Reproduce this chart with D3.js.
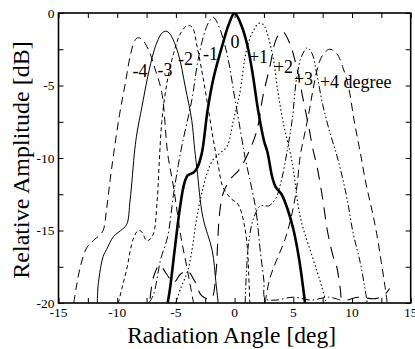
<!DOCTYPE html>
<html>
<head>
  <meta charset="utf-8">
  <script src="https://d3js.org/d3.v7.min.js"></script>
  <style>
    body { margin: 0; background: #fff; }
  </style>
</head>
<body>
<div id="chart"></div>
<script>
    // beam patterns, [angle deg, relative amplitude dB]
    var beamM4 = [[-13.7,-20],[-13.5,-19],[-13.2,-17.7],[-12.6,-16.2],[-11.9,-15.6],[-11.6,-15.4],[-11.2,-15.0],[-10.9,-13.5],[-10.6,-11.5],[-10.3,-9.7],[-9.8,-7],[-9.3,-4.8],[-8.9,-3],[-8.5,-1.9],[-8.2,-1.7],[-7.8,-1.9],[-7.3,-2.6],[-6.8,-3.8],[-6.2,-5.5],[-5.7,-9.7],[-5.2,-12],[-4.6,-15.3],[-4.0,-17.8],[-3.5,-20]];
    var beamM3 = [[-11.7,-20],[-11.6,-18.6],[-11.2,-16.8],[-10.9,-16.3],[-10.3,-15.4],[-9.7,-15.0],[-9.2,-14.6],[-8.9,-12.9],[-8.5,-9.4],[-8.3,-8.2],[-7.9,-6.5],[-7.4,-4.4],[-6.9,-2.7],[-6.6,-2.0],[-6.2,-1.4],[-5.85,-1.25],[-5.5,-1.45],[-4.8,-2.8],[-4.2,-5.1],[-3.65,-7.4],[-3.4,-9.4],[-3.2,-10.8],[-2.7,-14.1],[-1.9,-16.4],[-1.6,-18.5],[-1.4,-20]];
    var beamM2 = [[-9.9,-20],[-9.6,-19],[-9.2,-17.7],[-8.6,-15.5],[-8.2,-15.0],[-7.9,-15.1],[-7.5,-15.7],[-7.2,-15.6],[-6.9,-15.2],[-6.6,-13],[-6.4,-10],[-6.2,-7.5],[-5.8,-5],[-5.2,-2.8],[-4.6,-1.4],[-4.0,-0.85],[-3.6,-1.0],[-3.2,-2.3],[-2.7,-4.4],[-2.2,-6.8],[-1.8,-8.8],[-1.4,-10.5],[-1.0,-12.0],[-0.3,-12.8],[0.3,-13.2],[0.8,-14.5],[1.1,-16.3],[1.2,-18],[1.3,-20]];
    var beamM1 = [[-7.3,-20],[-6.9,-19.4],[-6.3,-17],[-5.7,-15.4],[-5.2,-12.5],[-4.8,-10.5],[-4.4,-8.8],[-3.9,-7],[-3.6,-5.8],[-3.1,-3.2],[-2.5,-1.2],[-2.1,-0.5],[-1.8,-0.3],[-1.4,-0.8],[-0.65,-2.8],[0,-5.8],[0.6,-8.6],[0.9,-10],[1.3,-11.5],[1.8,-13.5],[2.2,-16.5],[2.5,-18.5],[2.6,-19.7],[3.5,-19.8],[5,-19.6],[6.5,-19.8],[8,-19.6],[9,-19.8]];
    var beam0 = [[-5.7,-20],[-5.5,-19],[-5.1,-16.3],[-4.65,-13.4],[-4.3,-11.8],[-4.0,-11.2],[-3.5,-11.0],[-3.2,-10.7],[-2.8,-9.7],[-2.3,-6.7],[-1.8,-4.5],[-1.0,-2.1],[-0.5,-0.8],[0,0],[0.5,-0.7],[1.05,-2.1],[1.5,-4.0],[2.0,-6.7],[2.5,-8.8],[2.8,-9.6],[3.2,-11.3],[3.5,-12.0],[4.0,-12.5],[4.5,-13.5],[5.0,-14.9],[5.5,-17.0],[6.0,-20]];
    var beamP1 = [[-5.0,-20],[-4.6,-19],[-4.0,-17.8],[-3.6,-16.2],[-3.3,-14.5],[-2.9,-12.8],[-2.4,-11.2],[-1.9,-10.2],[-1.3,-9.7],[-0.65,-9.2],[-0.1,-7.4],[0.45,-5.5],[1.0,-2.6],[1.6,-1.2],[2.1,-0.7],[2.45,-0.8],[3.2,-2.75],[3.7,-5.5],[4.2,-7.8],[4.7,-9.5],[5.0,-10.8],[5.6,-14.1],[6.7,-17],[7.4,-18.8],[7.8,-20]];
    var beamP2 = [[-7.2,-19.7],[-6.9,-18.2],[-6.4,-17.4],[-5.8,-18.0],[-5.2,-18.6],[-4.6,-18.0],[-4.0,-17.8],[-3.4,-18.5],[-2.8,-19.5],[-2.0,-19.7],[-1.6,-18],[-1.45,-16],[-1.3,-14],[-1.0,-12.5],[-0.4,-11.5],[0.4,-10.8],[1.2,-9.6],[1.9,-8.1],[2.4,-5.8],[3.0,-3.7],[3.6,-1.7],[4.1,-1.3],[4.7,-2.1],[5.3,-3.8],[5.8,-5.8],[6.3,-7.8],[6.7,-9.5],[7.0,-10.5],[7.5,-12.8],[7.9,-15],[8.4,-16.8],[8.7,-17.5],[9.0,-19],[9.2,-19.8],[10.5,-19.6],[12,-19.7],[12.8,-19.4],[13.2,-19]];
    var beamP3 = [[0.9,-20],[1.0,-18],[1.2,-15.8],[1.6,-14.2],[2.2,-13.3],[2.9,-13.3],[3.5,-12.8],[4.0,-11.5],[4.5,-9.4],[4.9,-7.4],[5.3,-4.4],[5.7,-3.0],[6.2,-2.4],[6.6,-2.8],[7.0,-4.2],[7.5,-6.3],[8.1,-8.2],[8.7,-9.8],[9.2,-11.4],[9.6,-12.9],[10.1,-15.2],[10.7,-17.2],[11.1,-19],[11.3,-20]];
    var beamP4 = [[2.6,-20],[3.0,-18.3],[3.6,-17],[4.3,-15.6],[4.9,-13.8],[5.3,-12],[5.6,-9.8],[5.9,-8.6],[6.3,-7],[6.7,-5.2],[7.1,-3.7],[7.5,-2.9],[8.1,-2.5],[8.7,-2.8],[9.2,-3.7],[9.7,-5.1],[10.2,-7.5],[10.7,-9.6],[11.2,-11.8],[11.7,-13.6],[12.1,-15.2],[12.5,-17.2],[12.8,-18.8],[13.0,-20]];

    var beamNames = ["-4", "-3", "-2", "-1", "0", "+1", "+2", "+3", "+4 degree"];
    // where each name sits, in data units
    var labelAngle = [-8.06, -5.93, -4.18, -2.05, 0.03, 2.04, 4.17, 5.87, 7.27];
    var labelDb = [-4.41, -4.34, -3.59, -3.24, -2.41, -3.45, -4.14, -4.97, -5.17];

    var xTicks = [-15, -10, -5, 0, 5, 10, 15];
    var yTicks = [0, -5, -10, -15, -20];

    var serif = "'Liberation Serif', 'Times New Roman', Times, 'DejaVu Serif', serif";

    var beams = [
        {data: beamM4, dash: "8,5", w: 1},
        {data: beamM3, dash: null, w: 1},
        {data: beamM2, dash: "4,3", w: 1},
        {data: beamM1, dash: "8,3,1.5,3", w: 1},
        {data: beam0, dash: null, w: 2.6},
        {data: beamP1, dash: "1.5,2.5", w: 1.1},
        {data: beamP2, dash: "12,8", w: 1.1},
        {data: beamP3, dash: "7,2.5,1.5,2.5,1.5,2.5", w: 1},
        {data: beamP4, dash: "8,5", w: 1}
    ];

    var W = 415, H = 349;
    var margin = {top: 13, right: 4.3, bottom: 46, left: 58.5},
        width = W - margin.left - margin.right,
        height = H - margin.top - margin.bottom;

    var svg = d3.select("#chart")
        .append("svg")
        .attr("width", W)
        .attr("height", H)
        .append("g")
        .attr("transform", "translate(" + margin.left + "," + margin.top + ")");

    var x = d3.scaleLinear().domain([-15, 15]).range([0, width]);
    var y = d3.scaleLinear().domain([-20, 0]).range([height, 0]);

    svg.append("clipPath").attr("id", "clip")
        .append("rect").attr("width", width).attr("height", height);

    var line = d3.line()
        .x(function (d) { return x(d[0]); })
        .y(function (d) { return y(d[1]); })
        .curve(d3.curveCatmullRom.alpha(0.5));

    svg.append("g").attr("clip-path", "url(#clip)")
        .selectAll("path")
        .data(beams)
        .enter()
        .append("path")
        .attr("d", function (d) { return line(d.data); })
        .attr("fill", "none")
        .attr("stroke", "#000")
        .attr("stroke-width", function (d) { return d.w; })
        .attr("stroke-dasharray", function (d) { return d.dash; });

    // inward ticks every 2.5 on all four sides
    var minorX = d3.range(-15, 15.01, 2.5);
    var minorY = d3.range(-20, 0.01, 2.5);
    svg.append("g").call(d3.axisBottom(x).tickValues(minorX).tickSize(5).tickFormat(""))
        .attr("transform", "translate(0," + (height - 5) + ")");
    svg.append("g").call(d3.axisTop(x).tickValues(minorX).tickSize(-5).tickFormat(""));
    svg.append("g").call(d3.axisLeft(y).tickValues(minorY).tickSize(-5).tickFormat(""));
    svg.append("g").call(d3.axisRight(y).tickValues(minorY).tickSize(5).tickFormat(""))
        .attr("transform", "translate(" + (width - 5) + ",0)");
    svg.selectAll(".domain").remove();
    svg.selectAll(".tick line").attr("stroke", "#000").attr("stroke-width", 1);

    svg.append("rect")
        .attr("width", width).attr("height", height)
        .attr("fill", "none").attr("stroke", "#000").attr("stroke-width", 1.6);

    // tick labels
    svg.selectAll(".xl").data(xTicks).enter().append("text")
        .attr("x", function (d) { return x(d); })
        .attr("y", height + 14)
        .attr("text-anchor", "middle")
        .style("font-family", serif)
        .style("font-size", "13.5px")
        .text(function (d) { return d; });
    svg.selectAll(".yl").data(yTicks).enter().append("text")
        .attr("x", -4)
        .attr("y", function (d) { return y(d) + 4.5; })
        .attr("text-anchor", "end")
        .style("font-family", serif)
        .style("font-size", "13.5px")
        .text(function (d) { return d; });

    // beam names
    svg.selectAll(".bl").data(beamNames).enter().append("text")
        .attr("x", function (d, i) { return x(labelAngle[i]); })
        .attr("y", function (d, i) { return y(labelDb[i]); })
        .attr("text-anchor", function (d, i) { return i === beamNames.length - 1 ? "start" : "middle"; })
        .style("font-family", serif)
        .style("font-size", "18px")
        .text(function (d) { return d; });

    svg.append("text")
        .attr("x", width / 2 - 3)
        .attr("y", height + 40)
        .attr("text-anchor", "middle")
        .style("font-family", serif)
        .style("font-size", "23.5px")
        .text("Radiation Angle [deg]");

    svg.append("text")
        .attr("transform", "translate(" + (29 - margin.left) + "," + (160 - margin.top) + ") rotate(-90)")
        .attr("text-anchor", "middle")
        .style("font-family", serif)
        .style("font-size", "24px")
        .text("Relative Amplitude [dB]");
</script>
</body>
</html>
